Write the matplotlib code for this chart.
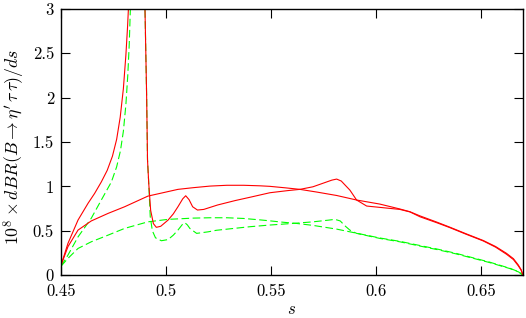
import matplotlib
matplotlib.use("Agg")
import matplotlib.pyplot as plt

red_res = [
    (0.4500, 0.11), (0.4533, 0.357), (0.4581, 0.62), (0.4629, 0.81), (0.4660, 0.92),
    (0.4692, 1.05), (0.4720, 1.18), (0.4745, 1.34), (0.4765, 1.53), (0.4782, 1.78),
    (0.4797, 2.10), (0.4809, 2.48), (0.4817, 2.80), (0.4822, 3.05), (0.4830, 3.6),
    (0.4862, 8.0),
    (0.4895, 3.5), (0.4900, 3.0), (0.4908, 2.0), (0.4912, 1.30), (0.4918, 1.03),
    (0.4927, 0.73), (0.4940, 0.58), (0.4954, 0.538), (0.4975, 0.55), (0.5010, 0.62),
    (0.5035, 0.69), (0.5057, 0.77), (0.5080, 0.86), (0.5094, 0.894), (0.5110, 0.85),
    (0.5127, 0.77), (0.5150, 0.733), (0.5180, 0.74), (0.5246, 0.79), (0.5330, 0.84),
    (0.5406, 0.88), (0.5495, 0.928), (0.5580, 0.952), (0.5638, 0.966), (0.5700, 0.995),
    (0.5742, 1.03), (0.5790, 1.07), (0.5813, 1.082), (0.5835, 1.06), (0.5855, 1.01),
    (0.5876, 0.958), (0.5908, 0.846), (0.5956, 0.778), (0.6019, 0.763), (0.6114, 0.74),
    (0.6162, 0.712), (0.6210, 0.657), (0.6290, 0.59), (0.6352, 0.535), (0.6430, 0.46),
    (0.6511, 0.385), (0.6570, 0.315), (0.6622, 0.235), (0.6655, 0.175), (0.6678, 0.105),
    (0.6692, 0.055), (0.6700, 0.0),
]

red_smooth = [
    (0.4500, 0.11), (0.4533, 0.32), (0.4581, 0.507), (0.4644, 0.61), (0.4724, 0.695),
    (0.4803, 0.77), (0.4914, 0.89), (0.5057, 0.966), (0.5130, 0.985), (0.5210, 1.003),
    (0.5290, 1.012), (0.5370, 1.012), (0.5448, 1.006), (0.5495, 1.0), (0.5570, 0.983),
    (0.5638, 0.966), (0.5720, 0.935), (0.5813, 0.897), (0.5908, 0.846), (0.6019, 0.80),
    (0.6114, 0.745), (0.6162, 0.714), (0.6210, 0.667), (0.6290, 0.597), (0.6352, 0.54),
    (0.6430, 0.465), (0.6511, 0.39), (0.6570, 0.322), (0.6622, 0.245), (0.6655, 0.185),
    (0.6678, 0.115), (0.6692, 0.06), (0.6700, 0.0),
]

green_res = [
    (0.4500, 0.10), (0.4533, 0.225), (0.4581, 0.43), (0.4644, 0.64), (0.4692, 0.846),
    (0.4740, 1.05), (0.4765, 1.22), (0.4783, 1.40), (0.4797, 1.62), (0.4809, 1.92),
    (0.4818, 2.25), (0.4825, 2.60), (0.4831, 3.05), (0.4838, 3.6), (0.4862, 8.0),
    (0.4895, 3.5), (0.4900, 3.0), (0.4908, 2.0), (0.4912, 1.30), (0.4918, 1.03),
    (0.4925, 0.66), (0.4935, 0.50), (0.4950, 0.42), (0.4978, 0.387), (0.5010, 0.40),
    (0.5035, 0.45), (0.5057, 0.507), (0.5078, 0.57), (0.5090, 0.59), (0.5102, 0.565),
    (0.5114, 0.525), (0.5146, 0.47), (0.5200, 0.487), (0.5241, 0.505), (0.5320, 0.525),
    (0.5400, 0.545), (0.5495, 0.564), (0.5622, 0.585), (0.5700, 0.60), (0.5770, 0.618),
    (0.5805, 0.628), (0.5830, 0.61), (0.5855, 0.55), (0.5876, 0.507), (0.5908, 0.47),
    (0.6019, 0.413), (0.6114, 0.375), (0.6210, 0.327), (0.6300, 0.283), (0.6380, 0.24),
    (0.6470, 0.185), (0.6540, 0.142), (0.6600, 0.10), (0.6640, 0.072), (0.6680, 0.035),
    (0.6700, 0.0),
]

green_smooth = [
    (0.4500, 0.10), (0.4533, 0.188), (0.4581, 0.30), (0.4644, 0.375), (0.4724, 0.45),
    (0.4803, 0.526), (0.4914, 0.60), (0.5010, 0.628), (0.5071, 0.635), (0.5130, 0.642),
    (0.5210, 0.646), (0.5290, 0.646), (0.5370, 0.638), (0.5448, 0.622), (0.5500, 0.61),
    (0.5560, 0.595), (0.5622, 0.582), (0.5700, 0.56), (0.5813, 0.518), (0.5908, 0.472),
    (0.6019, 0.418), (0.6114, 0.38), (0.6210, 0.333), (0.6300, 0.289), (0.6380, 0.246),
    (0.6470, 0.19), (0.6540, 0.147), (0.6600, 0.104), (0.6640, 0.075), (0.6680, 0.037),
    (0.6700, 0.0),
]

x_ticks = [0.45, 0.5, 0.55, 0.6, 0.65]
x_ticklabels = ["0.45", "0.5", "0.55", "0.6", "0.65"]
y_ticks = [0, 0.5, 1, 1.5, 2, 2.5, 3]
y_ticklabels = ["0", "0.5", "1", "1.5", "2", "2.5", "3"]

plt.rcParams["font.family"] = "cmr10"
plt.rcParams["mathtext.fontset"] = "cm"
plt.rcParams["lines.scale_dashes"] = False

fig = plt.figure(figsize=(5.26, 3.18), dpi=100)
ax = fig.add_axes([0.116, 0.135, 0.878, 0.837])

RED = "#ff0000"
GREEN = "#00ff00"

for curve, color, style in [
    (green_smooth, GREEN, (0, (5.5, 2.5))),
    (green_res, GREEN, (0, (5.5, 2.5))),
    (red_smooth, RED, "-"),
    (red_res, RED, "-"),
]:
    s, v = zip(*curve)
    ax.plot(s, v, color=color, linestyle=style, linewidth=0.8)

ax.set_xlim(0.45, 0.67)
ax.set_ylim(0, 3)
ax.set_xticks(x_ticks)
ax.set_xticklabels(x_ticklabels)
ax.set_yticks(y_ticks)
ax.set_yticklabels(y_ticklabels)
ax.tick_params(direction="in", length=6.5, width=0.8, top=True, right=True,
               labelsize=12)
ax.tick_params(axis="x", pad=6)
ax.tick_params(axis="y", pad=5)
for sp in ax.spines.values():
    sp.set_linewidth(1.0)

ax.set_xlabel(r"$s$", fontsize=12, labelpad=2)
ax.set_ylabel(r"$10^8\times dBR(B\rightarrow\eta^\prime\,\tau\,\tau)/ds$",
              fontsize=12.8)
ax.yaxis.set_label_coords(-0.074, 0.48)

fig.savefig("out.png", dpi=100)
